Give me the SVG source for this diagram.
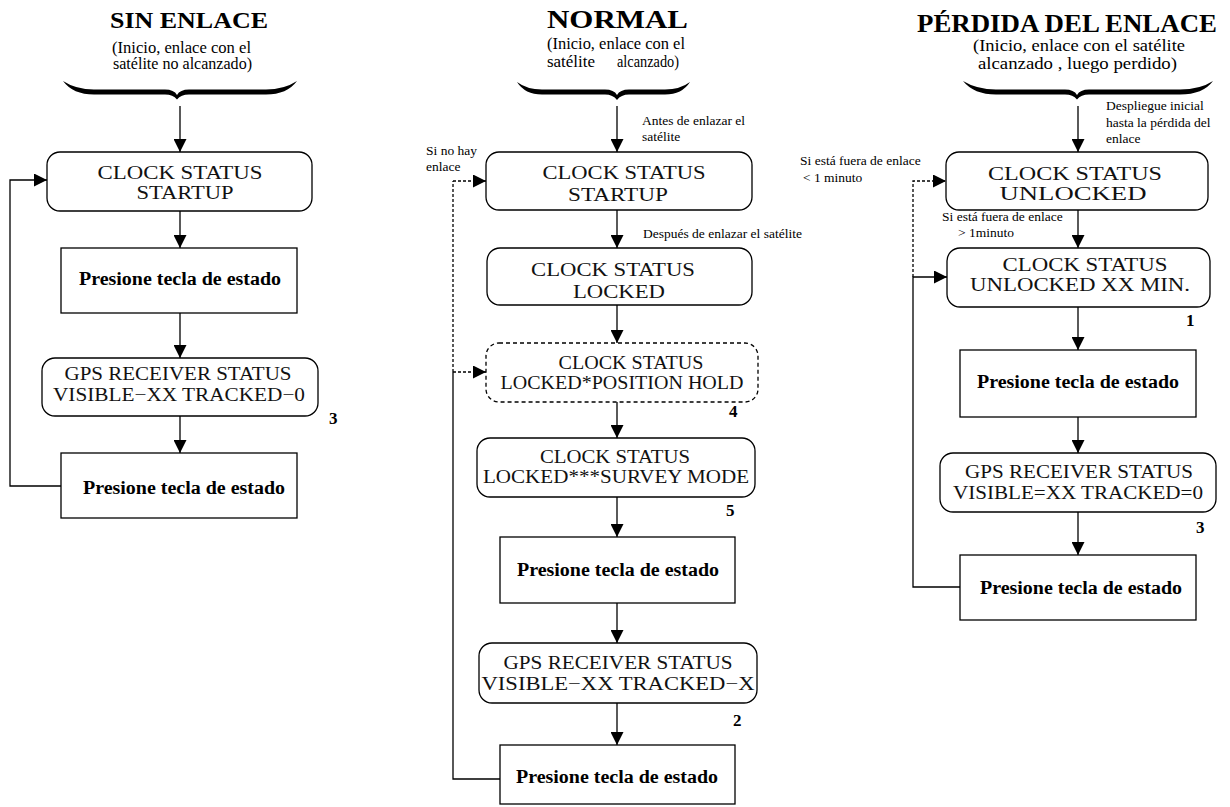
<svg xmlns="http://www.w3.org/2000/svg" width="1230" height="807" viewBox="0 0 1230 807">
  <defs>
    <marker id="ah" markerUnits="userSpaceOnUse" markerWidth="13" markerHeight="13" refX="13" refY="6.5" orient="auto">
      <path d="M0,0 L13,6.5 L0,13 Z" fill="#000"/>
    </marker>
    <style>
      .box { fill: #fff; stroke: #000; stroke-width: 1.3; }
      .dbox { fill: #fff; stroke: #000; stroke-width: 1.3; stroke-dasharray: 4 3; }
      .st { font-family: "Liberation Serif", "Times New Roman", serif; font-size: 18.5px; fill: #111; text-anchor: middle; }
      .key { font-family: "Liberation Serif", "Times New Roman", serif; font-size: 18px; font-weight: bold; fill: #000; text-anchor: middle; }
      .num { font-family: "Liberation Serif", "Times New Roman", serif; font-size: 17px; font-weight: bold; fill: #000; }
      .title { font-family: "Liberation Serif", "Times New Roman", serif; font-weight: bold; fill: #000; }
      .sub { font-family: "Liberation Serif", "Times New Roman", serif; font-size: 16px; fill: #000; }
      .lbl { font-family: "Liberation Serif", "Times New Roman", serif; font-size: 13.5px; fill: #000; }
      .brace { fill: #000; }
      .line { fill: none; stroke: #000; stroke-width: 1.3; }
      .dash { fill: none; stroke: #000; stroke-width: 1.3; stroke-dasharray: 3 2; }
    </style>
  </defs>
  <rect width="1230" height="807" fill="#fff"/>

  <!-- Column headers -->
  <g id="header-sin-enlace">
    <text class="title" x="110" y="28" font-size="24" textLength="158" lengthAdjust="spacingAndGlyphs">SIN ENLACE</text>
    <text class="sub" x="112" y="53" textLength="139" lengthAdjust="spacingAndGlyphs">(Inicio, enlace con el</text>
    <text class="sub" x="113" y="69" textLength="139" lengthAdjust="spacingAndGlyphs">satélite no alcanzado)</text>
    <path class="brace" d="M63,81 Q76,89.5 94,89.5 L165,89.5 Q174,89.5 177,95 Q180,89.5 189,89.5 L266,89.5 Q284,89.5 297,81 Q287,94.5 266,94.5 L189,94.5 Q181,94.5 177,99.5 Q173,94.5 165,94.5 L94,94.5 Q73,94.5 63,81 Z"/>
  </g>
  <g id="header-normal">
    <text class="title" x="547" y="28" font-size="26" textLength="141" lengthAdjust="spacingAndGlyphs">NORMAL</text>
    <text class="sub" x="547" y="49" textLength="138" lengthAdjust="spacingAndGlyphs">(Inicio, enlace con el</text>
    <text class="sub" x="547" y="67" textLength="48" lengthAdjust="spacingAndGlyphs">satélite</text>
    <text class="sub" x="617" y="67" textLength="62" lengthAdjust="spacingAndGlyphs">alcanzado)</text>
    <path class="brace" d="M517,82 Q527,89.5 542,89.5 L605,89.5 Q614,89.5 617,95 Q620,89.5 629,89.5 L665,89.5 Q680,89.5 690,82 Q682,94.5 665,94.5 L629,94.5 Q621,94.5 617,100 Q613,94.5 605,94.5 L542,94.5 Q525,94.5 517,82 Z"/>
  </g>
  <g id="header-perdida">
    <text class="title" x="917" y="32" font-size="25" textLength="300" lengthAdjust="spacingAndGlyphs">PÉRDIDA DEL ENLACE</text>
    <text class="sub" x="973" y="51" textLength="212" lengthAdjust="spacingAndGlyphs">(Inicio, enlace con el satélite</text>
    <text class="sub" x="978" y="69" textLength="199" lengthAdjust="spacingAndGlyphs">alcanzado , luego perdido)</text>
    <path class="brace" d="M963,81 Q977,89.5 996,89.5 L1065,89.5 Q1074,89.5 1077,95 Q1080,89.5 1089,89.5 L1180,89.5 Q1200,89.5 1213,81 Q1203,94.5 1180,94.5 L1089,94.5 Q1081,94.5 1077,99.5 Q1073,94.5 1065,94.5 L996,94.5 Q974,94.5 963,81 Z"/>
  </g>

  <!-- Connectors -->
  <g id="connectors">
    <!-- SIN ENLACE -->
    <line class="line" x1="180" y1="106" x2="180" y2="152" marker-end="url(#ah)"/>
    <line class="line" x1="180" y1="211" x2="180" y2="248" marker-end="url(#ah)"/>
    <line class="line" x1="180" y1="313" x2="180" y2="358" marker-end="url(#ah)"/>
    <line class="line" x1="180" y1="416" x2="180" y2="453" marker-end="url(#ah)"/>
    <path class="line" d="M61,486 H10 V180 H47" marker-end="url(#ah)"/>

    <!-- NORMAL -->
    <line class="line" x1="617" y1="106" x2="617" y2="152" marker-end="url(#ah)"/>
    <line class="line" x1="617" y1="210" x2="617" y2="248" marker-end="url(#ah)"/>
    <line class="line" x1="617" y1="305" x2="617" y2="343" marker-end="url(#ah)"/>
    <line class="line" x1="617" y1="402" x2="617" y2="438" marker-end="url(#ah)"/>
    <line class="line" x1="617" y1="497" x2="617" y2="537" marker-end="url(#ah)"/>
    <line class="line" x1="617" y1="603" x2="617" y2="643" marker-end="url(#ah)"/>
    <line class="line" x1="617" y1="703" x2="617" y2="745" marker-end="url(#ah)"/>
    <path class="line" d="M500,779 H453 V372"/>
    <path class="dash" d="M453,372 V181"/>
    <path class="dash" d="M453,181 H486" marker-end="url(#ah)"/>
    <path class="dash" d="M453,372 H486" marker-end="url(#ah)"/>

    <!-- PÉRDIDA DEL ENLACE -->
    <line class="line" x1="1078" y1="106" x2="1078" y2="152" marker-end="url(#ah)"/>
    <line class="line" x1="1078" y1="210" x2="1078" y2="248" marker-end="url(#ah)"/>
    <line class="line" x1="1078" y1="307" x2="1078" y2="350" marker-end="url(#ah)"/>
    <line class="line" x1="1078" y1="417" x2="1078" y2="453" marker-end="url(#ah)"/>
    <line class="line" x1="1078" y1="512" x2="1078" y2="555" marker-end="url(#ah)"/>
    <path class="line" d="M960,587 H913 V277 H947" marker-end="url(#ah)"/>
    <path class="dash" d="M913,277 V181 H946" marker-end="url(#ah)"/>
  </g>

  <!-- Connector labels -->
  <g id="connector-labels">
    <text class="lbl" x="642" y="125">Antes de enlazar el</text>
    <text class="lbl" x="642" y="141">satélite</text>
    <text class="lbl" x="426" y="155">Si no hay</text>
    <text class="lbl" x="426" y="171">enlace</text>
    <text class="lbl" x="643" y="238">Después de enlazar el satélite</text>
    <text class="lbl" x="1106" y="110">Despliegue inicial</text>
    <text class="lbl" x="1106" y="127">hasta la pérdida del</text>
    <text class="lbl" x="1106" y="143">enlace</text>
    <text class="lbl" x="800" y="165">Si está fuera de enlace</text>
    <text class="lbl" x="803" y="182">&lt; 1 minuto</text>
    <text class="lbl" x="942" y="221">Si está fuera de enlace</text>
    <text class="lbl" x="958" y="237">&gt; 1minuto</text>
  </g>

  <!-- SIN ENLACE nodes -->
  <g id="s1-startup">
    <rect class="box" x="47" y="152" width="265" height="59" rx="13"/>
    <text class="st" x="180" y="179" textLength="165" lengthAdjust="spacingAndGlyphs">CLOCK STATUS</text>
    <text class="st" x="185" y="199" textLength="97" lengthAdjust="spacingAndGlyphs">STARTUP</text>
  </g>
  <g id="s1-key1">
    <rect class="box" x="61" y="248" width="236" height="65"/>
    <text class="key" x="180" y="285" textLength="202" lengthAdjust="spacingAndGlyphs">Presione tecla de estado</text>
  </g>
  <g id="s1-gps">
    <rect class="box" x="42" y="358" width="276" height="58" rx="13"/>
    <text class="st" x="178" y="380" textLength="227" lengthAdjust="spacingAndGlyphs">GPS RECEIVER STATUS</text>
    <text class="st" x="179" y="401" textLength="252" lengthAdjust="spacingAndGlyphs">VISIBLE−XX TRACKED−0</text>
    <text class="num" x="329" y="424">3</text>
  </g>
  <g id="s1-key2">
    <rect class="box" x="61" y="453" width="236" height="65"/>
    <text class="key" x="184" y="494" textLength="202" lengthAdjust="spacingAndGlyphs">Presione tecla de estado</text>
  </g>

  <!-- NORMAL nodes -->
  <g id="n-startup">
    <rect class="box" x="486" y="152" width="266" height="58" rx="13"/>
    <text class="st" x="624" y="179" textLength="163" lengthAdjust="spacingAndGlyphs">CLOCK STATUS</text>
    <text class="st" x="618" y="201" textLength="100" lengthAdjust="spacingAndGlyphs">STARTUP</text>
  </g>
  <g id="n-locked">
    <rect class="box" x="487" y="248" width="265" height="57" rx="13"/>
    <text class="st" x="613" y="276" textLength="164" lengthAdjust="spacingAndGlyphs">CLOCK STATUS</text>
    <text class="st" x="619" y="298" textLength="92" lengthAdjust="spacingAndGlyphs">LOCKED</text>
  </g>
  <g id="n-position-hold">
    <rect class="dbox" x="486" y="343" width="272" height="59" rx="13"/>
    <text class="st" x="631" y="369" textLength="145" lengthAdjust="spacingAndGlyphs">CLOCK STATUS</text>
    <text class="st" x="622" y="389" textLength="243" lengthAdjust="spacingAndGlyphs">LOCKED*POSITION HOLD</text>
    <text class="num" x="729" y="417">4</text>
  </g>
  <g id="n-survey">
    <rect class="box" x="477" y="438" width="278" height="59" rx="13"/>
    <text class="st" x="615" y="463" textLength="150" lengthAdjust="spacingAndGlyphs">CLOCK STATUS</text>
    <text class="st" x="616" y="483" textLength="266" lengthAdjust="spacingAndGlyphs">LOCKED***SURVEY MODE</text>
    <text class="num" x="726" y="516">5</text>
  </g>
  <g id="n-key1">
    <rect class="box" x="500" y="537" width="235" height="66"/>
    <text class="key" x="618" y="576" textLength="202" lengthAdjust="spacingAndGlyphs">Presione tecla de estado</text>
  </g>
  <g id="n-gps">
    <rect class="box" x="479" y="643" width="278" height="60" rx="13"/>
    <text class="st" x="618" y="669" textLength="229" lengthAdjust="spacingAndGlyphs">GPS RECEIVER STATUS</text>
    <text class="st" x="618" y="690" textLength="273" lengthAdjust="spacingAndGlyphs">VISIBLE−XX TRACKED−X</text>
    <text class="num" x="733" y="726">2</text>
  </g>
  <g id="n-key2">
    <rect class="box" x="500" y="745" width="235" height="59"/>
    <text class="key" x="617" y="783" textLength="202" lengthAdjust="spacingAndGlyphs">Presione tecla de estado</text>
  </g>

  <!-- PÉRDIDA DEL ENLACE nodes -->
  <g id="p-unlocked">
    <rect class="box" x="946" y="152" width="262" height="58" rx="13"/>
    <text class="st" x="1075" y="180" textLength="174" lengthAdjust="spacingAndGlyphs">CLOCK STATUS</text>
    <text class="st" x="1073" y="200" textLength="147" lengthAdjust="spacingAndGlyphs">UNLOCKED</text>
  </g>
  <g id="p-unlocked-min">
    <rect class="box" x="947" y="248" width="263" height="59" rx="13"/>
    <text class="st" x="1085" y="271" textLength="165" lengthAdjust="spacingAndGlyphs">CLOCK STATUS</text>
    <text class="st" x="1080" y="291" textLength="220" lengthAdjust="spacingAndGlyphs">UNLOCKED XX MIN.</text>
    <text class="num" x="1186" y="326">1</text>
  </g>
  <g id="p-key1">
    <rect class="box" x="960" y="350" width="236" height="67"/>
    <text class="key" x="1078" y="388" textLength="202" lengthAdjust="spacingAndGlyphs">Presione tecla de estado</text>
  </g>
  <g id="p-gps">
    <rect class="box" x="940" y="453" width="276" height="59" rx="13"/>
    <text class="st" x="1079" y="478" textLength="228" lengthAdjust="spacingAndGlyphs">GPS RECEIVER STATUS</text>
    <text class="st" x="1078" y="499" textLength="250" lengthAdjust="spacingAndGlyphs">VISIBLE=XX TRACKED=0</text>
    <text class="num" x="1196" y="533">3</text>
  </g>
  <g id="p-key2">
    <rect class="box" x="960" y="555" width="236" height="65"/>
    <text class="key" x="1081" y="594" textLength="202" lengthAdjust="spacingAndGlyphs">Presione tecla de estado</text>
  </g>
</svg>
